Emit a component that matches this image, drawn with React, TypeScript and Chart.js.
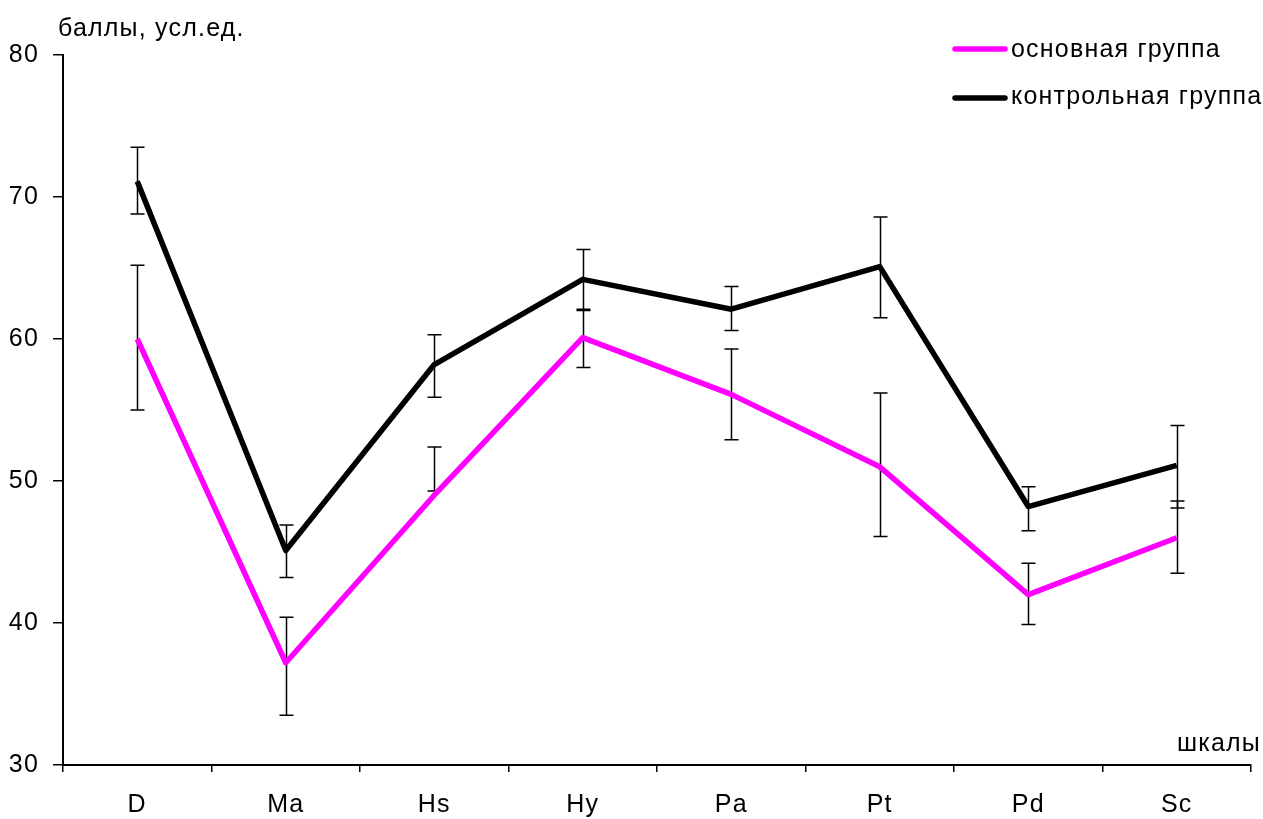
import React, { useEffect, useRef } from 'react';
import { Chart, registerables } from 'chart.js';

Chart.register(...registerables);

const categories = ['D', 'Ma', 'Hs', 'Hy', 'Pa', 'Pt', 'Pd', 'Sc'];
const mainLabel = 'основная группа';
const mainValues = [60, 37.2, 49, 60.1, 56.1, 51, 42, 46];
const mainLow = [55, 33.5, 49.3, 58, 52.9, 46.1, 39.9, 43.5];
const mainHigh = [65.2, 40.4, 52.4, 62, 59.3, 56.2, 44.2, 48.6];
const controlLabel = 'контрольная группа';
const controlValues = [71.1, 45.1, 58.2, 64.2, 62.1, 65.1, 48.2, 51.1];
const controlLow = [68.8, 43.2, 55.9, 62.1, 60.6, 61.5, 46.5, 48.1];
const controlHigh = [73.5, 46.9, 60.3, 66.3, 63.7, 68.6, 49.6, 53.9];
const yTicks = [30, 40, 50, 60, 70, 80];
const yTitle = 'баллы, усл.ед.';
const xTitle = 'шкалы';

const FONT = '"Liberation Sans", Arial, sans-serif';
const SPACING = '1.2px';
const SIZE = 25;

const spacing = {
  id: 'spacing',
  beforeDraw(chart: any) {
    chart.ctx.letterSpacing = SPACING;
  },
};

const errorBars = {
  id: 'errorBars',
  beforeDatasetsDraw(chart: any) {
    const { ctx, scales } = chart;
    const x = scales.x;
    const y = scales.y;
    const sets = [
      [mainLow, mainHigh],
      [controlLow, controlHigh],
    ];
    ctx.save();
    ctx.strokeStyle = '#000';
    ctx.lineWidth = 1.5;
    sets.forEach(([lo, hi]) => {
      categories.forEach((_, i) => {
        const px = Math.round(x.getPixelForValue(i)) + 0.5;
        const y1 = y.getPixelForValue(lo[i]);
        const y2 = y.getPixelForValue(hi[i]);
        ctx.beginPath();
        ctx.moveTo(px, y1);
        ctx.lineTo(px, y2);
        ctx.moveTo(px - 7, y1);
        ctx.lineTo(px + 7, y1);
        ctx.moveTo(px - 7, y2);
        ctx.lineTo(px + 7, y2);
        ctx.stroke();
      });
    });
    ctx.restore();
  },
};

const extras = {
  id: 'extras',
  afterDraw(chart: any) {
    const { ctx } = chart;
    ctx.save();
    ctx.letterSpacing = SPACING;
    ctx.fillStyle = '#000';
    ctx.font = `${SIZE}px ${FONT}`;
    ctx.textBaseline = 'alphabetic';
    ctx.textAlign = 'left';
    ctx.fillText(yTitle, 58, 36);
    ctx.textAlign = 'right';
    ctx.fillText(xTitle, 1261, 751);
    // legend
    const items = [
      [mainLabel, '#ff00ff', 49, 57],
      [controlLabel, '#000000', 98, 104],
    ] as const;
    ctx.textAlign = 'left';
    items.forEach(([label, color, ly, ty]) => {
      ctx.strokeStyle = color;
      ctx.lineWidth = 5.5;
      ctx.lineCap = 'round';
      ctx.beginPath();
      ctx.moveTo(955, ly);
      ctx.lineTo(1005, ly);
      ctx.stroke();
      ctx.fillText(label, 1011, ty);
    });
    ctx.restore();
  },
};

export default function App() {
  const ref = useRef<HTMLCanvasElement | null>(null);
  useEffect(() => {
    if (!ref.current) return;
    const chart = new Chart(ref.current, {
      type: 'line',
      data: {
        labels: categories,
        datasets: [
          {
            label: mainLabel,
            data: mainValues,
            borderColor: '#ff00ff',
            backgroundColor: '#ff00ff',
            borderWidth: 5.5,
            pointRadius: 0,
            tension: 0,
            borderJoinStyle: 'round',
          },
          {
            label: controlLabel,
            data: controlValues,
            borderColor: '#000000',
            backgroundColor: '#000000',
            borderWidth: 5.5,
            pointRadius: 0,
            tension: 0,
            borderJoinStyle: 'round',
          },
        ],
      },
      options: {
        animation: false,
        responsive: false,
        layout: { padding: { top: 55, right: 12, left: 0, bottom: 0 } },
        plugins: { legend: { display: false }, tooltip: { enabled: false } },
        scales: {
          x: {
            type: 'category',
            offset: true,
            grid: {
              offset: true,
              drawOnChartArea: false,
              drawTicks: true,
              tickLength: 7,
              color: '#000',
              lineWidth: 1.5,
            },
            border: { color: '#000', width: 2 },
            ticks: {
              color: '#000',
              font: { family: FONT, size: SIZE },
              padding: 18,
              maxRotation: 0,
              autoSkip: false,
            },
            afterFit: (s: any) => {
              s.height = 54;
            },
          },
          y: {
            min: 30,
            max: 80,
            afterBuildTicks: (s: any) => {
              s.ticks = yTicks.map((v) => ({ value: v }));
            },
            grid: {
              drawOnChartArea: false,
              drawTicks: true,
              tickLength: 10,
              color: '#000',
              lineWidth: 1.5,
            },
            border: { color: '#000', width: 2 },
            ticks: {
              color: '#000',
              font: { family: FONT, size: SIZE },
              padding: 14,
            },
            afterFit: (s: any) => {
              s.width = 63;
            },
          },
        },
      },
      plugins: [spacing, errorBars, extras],
    });
    return () => chart.destroy();
  }, []);
  return (
    <div style={{ position: 'fixed', left: 0, top: 0, width: 1263, height: 819, background: '#fff' }}>
      <canvas ref={ref} width={1263} height={819} style={{ display: 'block' }} />
    </div>
  );
}
